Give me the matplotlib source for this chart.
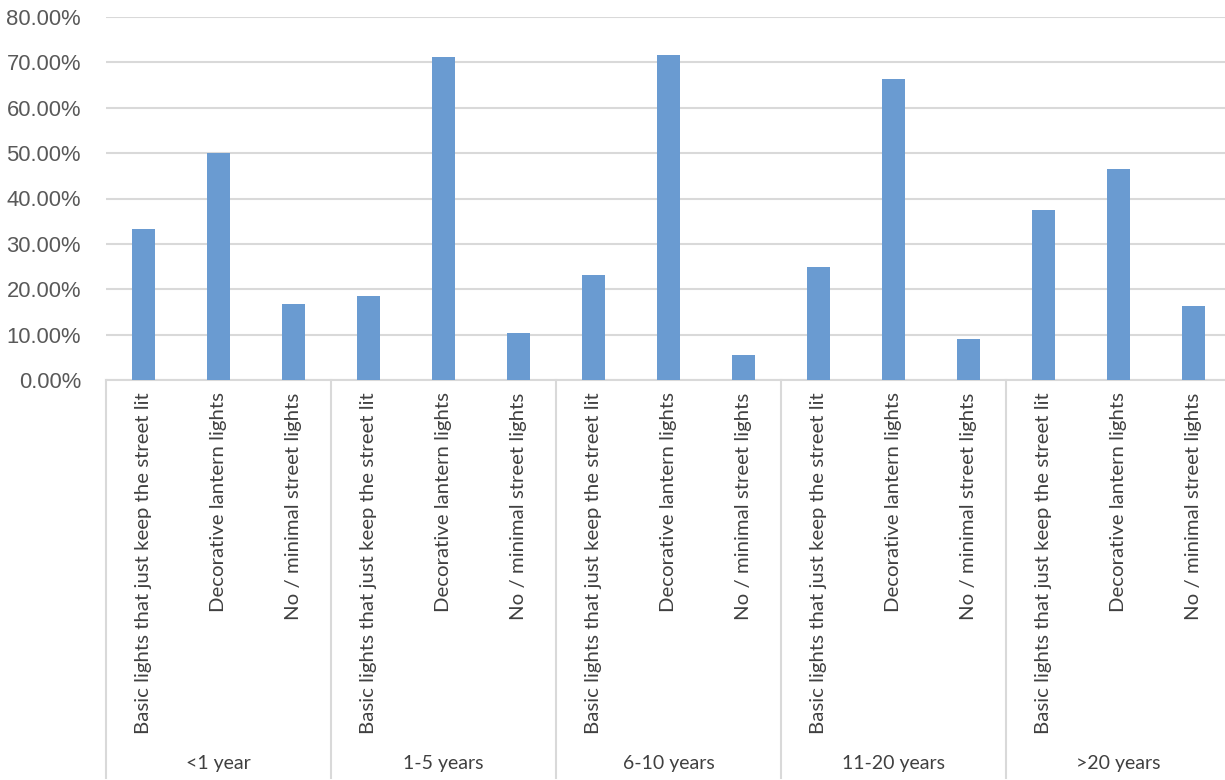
import matplotlib
matplotlib.use("Agg")
import matplotlib.pyplot as plt
import matplotlib.transforms as mtransforms
import numpy as np

# data
groups = ["<1 year", "1-5 years", "6-10 years", "11-20 years", ">20 years"]
categories = ["Basic lights that just keep the street lit",
              "Decorative lantern lights",
              "No / minimal street lights"]
basic = [33.33, 18.6, 23.05, 25.0, 37.4]
decorative = [50.0, 71.2, 71.7, 66.3, 46.4]
minimal = [16.67, 10.45, 5.6, 9.1, 16.35]

BAR = "#6A9BD1"
GRID = "#D9D9D9"
TEXT = "#595959"

values = []
for b, d, m in zip(basic, decorative, minimal):
    values += [b, d, m]
values = np.array(values) / 100
x = np.arange(len(values))

W, H = 1225, 780
fig = plt.figure(figsize=(W / 100, H / 100), dpi=100)
ax = fig.add_axes([106 / W, 1 - 380 / H, 1 - 106 / W, (380 - 17) / H])

ax.bar(x, values, width=0.3, color=BAR, zorder=3)

ax.set_ylim(0, 0.8)
ax.set_yticks(np.arange(0, 0.81, 0.1))
ax.set_yticklabels([f"{v * 100:.2f}%" for v in np.arange(0, 0.81, 0.1)],
                   fontfamily="Liberation Sans", fontsize=15.8, color=TEXT)
ax.yaxis.grid(True, color=GRID, linewidth=1.5, zorder=0)
ax.tick_params(axis="y", length=0, pad=18)

ax.set_xlim(-0.5, 14.42)
ax.set_xticks(x)
ax.set_xticklabels(categories * len(groups), rotation=90,
                   fontfamily="Lato", fontsize=14.7, color="#404040")
ax.tick_params(axis="x", length=0, pad=9)

for s in ["top", "right", "left"]:
    ax.spines[s].set_visible(False)
ax.spines["bottom"].set_color(GRID)
ax.spines["bottom"].set_linewidth(1.5)

# group separators and group labels below the category labels
trans = mtransforms.blended_transform_factory(ax.transData, ax.transAxes)
axh = 380 - 17
for i, g in enumerate(groups):
    left = i * 3 - 0.5
    ax.plot([left, left], [0, -(778 - 380) / axh], color=GRID, lw=1.5,
            transform=trans, clip_on=False)
    ax.text(i * 3 + 1, -(763 - 380) / axh, g, transform=trans, ha="center",
            va="center", fontfamily="Lato", fontsize=14, color="#404040")

fig.savefig("out.png", dpi=100)
